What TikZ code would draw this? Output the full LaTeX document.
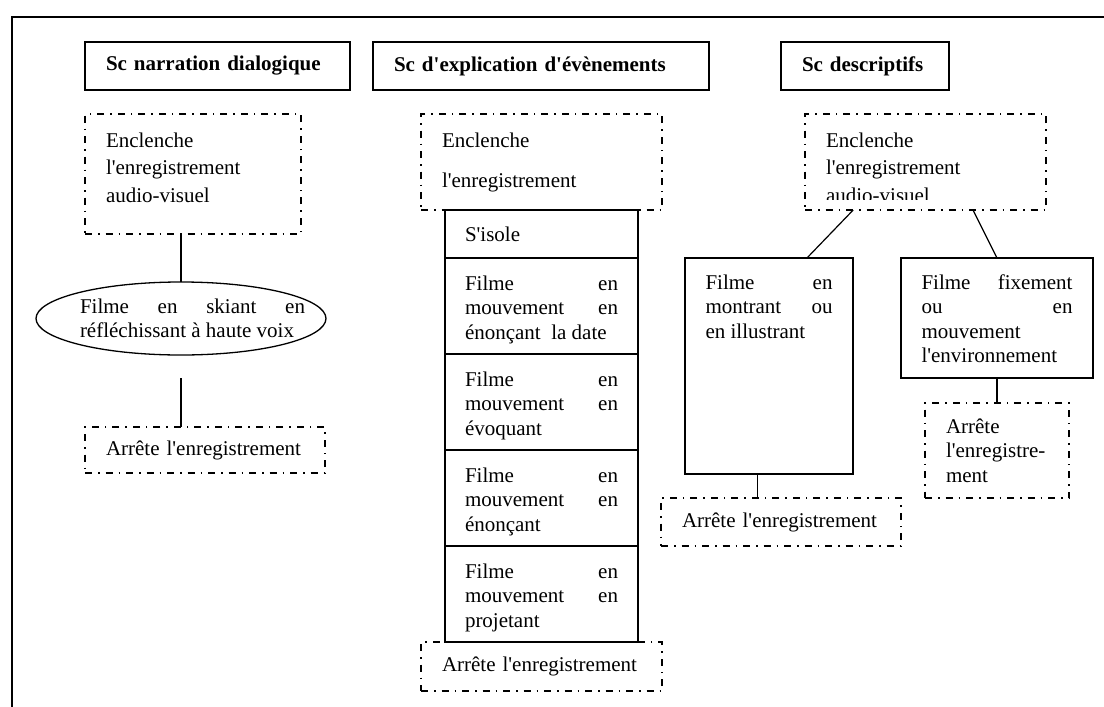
\documentclass[tikz,border=0pt]{standalone}
\usepackage{fontspec}
\setmainfont{Liberation Serif}[Ligatures=TeXOff]
\usetikzlibrary{shapes.geometric,calc}
\newcommand\jl[1]{\makebox[\hsize][s]{#1}}
% height, width, first baseline, baselineskip, content
\newcommand\tbox[5]{\parbox[c][#1][t]{#2}{\fontsize{21}{#4}\selectfont\rule{0pt}{#3}#5}}
\begin{document}
\begin{tikzpicture}[x=1pt,y=-1pt,
  every node/.style={font=\fontsize{21}{24.5}\selectfont, inner sep=0pt, outer sep=0pt},
  solidbox/.style={draw, line width=1.3pt, rectangle},
  dashbox/.style={draw, line width=1.3pt, rectangle, dash pattern=on 7pt off 6pt on 1.5pt off 6pt},
  hdr/.style={solidbox, anchor=north west, minimum height=48pt, align=left,
    font=\fontsize{21}{24.5}\selectfont\bfseries, inner xsep=21pt},
  stackbox/.style={solidbox, anchor=north, inner xsep=20pt},
  link/.style={line width=1.2pt},
  frame/.style={line width=1.8pt}]
\useasboundingbox (0,0) rectangle (1104,707);
\draw[frame] (1104,17) -- (12,17) -- (12,707);

% headers
\node[hdr, text width=223pt] (h1) at (85,42) {Sc narration dialogique};
\node[hdr, text width=294pt] (h2) at (373,42) {Sc d'explication d'évènements};
\node[hdr, text width=126pt] (h3) at (781,42) {Sc descriptifs};

% left column
\node[dashbox, anchor=north west, inner xsep=21pt] (e1) at (85,114)
  {\tbox{120pt}{174pt}{33pt}{27.5pt}{Enclenche\\ l'enregistrement\\ audio-visuel}};
\node[ellipse, draw, line width=1.3pt, minimum width=290pt, minimum height=73pt] (el) at (181,318.5)
  {\makebox[0pt]{\hspace*{23pt}\parbox{225pt}{\jl{Filme en skiant en}\\ réfléchissant à haute voix}}};
\node[dashbox, anchor=north west, minimum width=240pt, minimum height=46pt, text width=198pt, align=left] (a1) at (85,427)
  {Arrête l'enregistrement};
\draw[link] (e1.south -| el.north) -- (el.north);
\coordinate (c1) at ($(el.south)+(0,23)$);
\draw[link] (c1) -- (c1 |- a1.north);

% middle column
\node[dashbox, anchor=north west, inner xsep=21pt] (e2) at (421,114)
  {\tbox{96pt}{199pt}{33pt}{40pt}{Enclenche\\ l'enregistrement}};
\node[stackbox] (s0) at (541.5,210) {\tbox{48pt}{153pt}{31pt}{24.5pt}{S'isole}};
\node[stackbox] (s1) at (s0.south) {\tbox{96pt}{153pt}{32pt}{24.5pt}{\jl{Filme en}\\ \jl{mouvement en}\\ énonçant~ la date}};
\node[stackbox] (s2) at (s1.south) {\tbox{96pt}{153pt}{32pt}{24.5pt}{\jl{Filme en}\\ \jl{mouvement en}\\ évoquant}};
\node[stackbox] (s3) at (s2.south) {\tbox{96pt}{153pt}{32pt}{24.5pt}{\jl{Filme en}\\ \jl{mouvement en}\\ énonçant}};
\node[stackbox] (s4) at (s3.south) {\tbox{96pt}{153pt}{32pt}{24.5pt}{\jl{Filme en}\\ \jl{mouvement en}\\ projetant}};
\node[dashbox, anchor=north, minimum width=241pt, minimum height=49pt, text width=199pt, align=left] (a2) at (s4.south)
  {Arrête l'enregistrement};

% right column
\node[dashbox, anchor=north west, inner xsep=21pt] (e3) at (805,114)
  {\tbox{96pt}{199pt}{33pt}{27.5pt}{Enclenche\\ l'enregistrement\\ audio-visuel}};
\fill[white] (815,199.5) rectangle (1000,208.6);
\node[solidbox, anchor=north west, inner xsep=20.5pt] (bA) at (685,258)
  {\tbox{216pt}{127pt}{31pt}{24.5pt}{\jl{Filme en}\\ \jl{montrant ou}\\ en illustrant}};
\node[solidbox, anchor=north west, inner xsep=20.5pt] (bB) at (901,258)
  {\tbox{120pt}{151pt}{31pt}{24.5pt}{\jl{Filme fixement}\\ \jl{ou en}\\ mouvement\\ l'environnement}};
\node[dashbox, anchor=north west, minimum width=240pt, minimum height=48pt, text width=198pt, align=left] (a3) at (661,498)
  {Arrête l'enregistrement};
\node[dashbox, anchor=north, minimum width=144pt, minimum height=95pt, text width=102pt, align=left] (a4) at ($(bB.south)+(0,25)$)
  {Arrête\\ l'enregistre-\\ment};
\draw[link] ($(e3.south west)!0.2!(e3.south east)$) -- ($(bA.north west)!0.726!(bA.north east)$);
\draw[link] ($(e3.south west)!0.697!(e3.south east)$) -- (bB.north);
\coordinate (pA) at ($(bA.south west)!0.43!(bA.south east)$);
\draw[link] (pA) -- (pA |- a3.north);
\draw[link] (bB.south) -- (a4.north);
\end{tikzpicture}
\end{document}
